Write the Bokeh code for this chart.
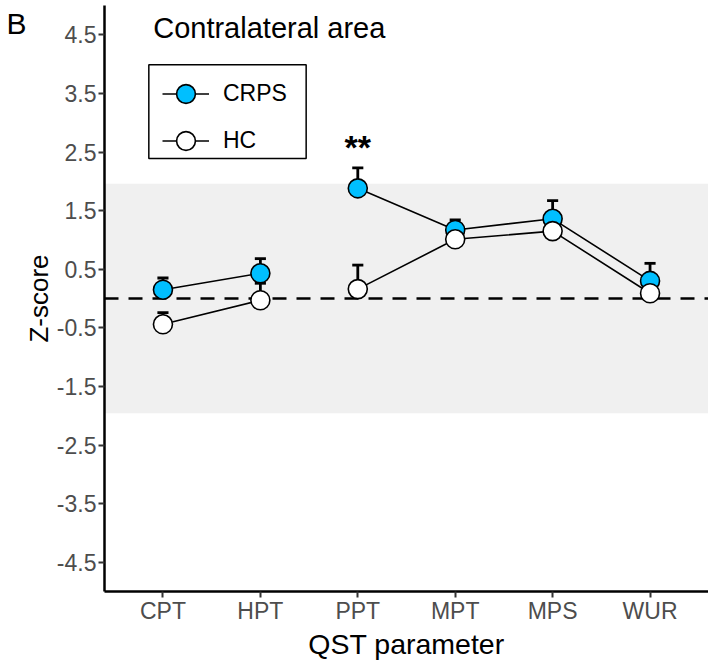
import numpy as np
from bokeh.plotting import figure
from bokeh.models import (FixedTicker, BoxAnnotation, Span, Label, Legend, LegendItem)
from bokeh.embed import file_html
from bokeh.resources import INLINE

# ---------------- data ----------------
categories = ["CPT", "HPT", "PPT", "MPT", "MPS", "WUR"]
segment_group = [1, 1, 2, 2, 2, 2]
crps_mean = [0.15, 0.43, 1.88, 1.17, 1.36, 0.30]
crps_se = [0.20, 0.25, 0.35, 0.17, 0.31, 0.30]
hc_mean = [-0.44, -0.03, 0.16, 1.01, 1.15, 0.09]
hc_se = [0.20, 0.29, 0.41, 0.15, 0.18, 0.20]
y_ticks = [-4.5, -3.5, -2.5, -1.5, -0.5, 0.5, 1.5, 2.5, 3.5, 4.5]
normal_band = (-1.96, 1.96)
sig_marks = {"PPT": "**"}

FONT = "Liberation Sans"
x_pos = np.arange(1, len(categories) + 1, dtype=float)

p = figure(width=708, height=663, x_range=(0.4, 6.6), y_range=(-5, 5),
           output_backend="svg", toolbar_location=None,
           min_border_left=104, min_border_right=0, min_border_top=5,
           min_border_bottom=72)
p.outline_line_color = None
p.xgrid.visible = False
p.ygrid.visible = False
p.background_fill_color = "white"

# grey normal range band
p.add_layout(BoxAnnotation(bottom=normal_band[0], top=normal_band[1], fill_color="#F0F0F0",
                           fill_alpha=1.0, line_color=None, level="underlay"))

# dashed zero line
p.add_layout(Span(location=0, dimension="width", line_color="black", line_width=2.5,
                  line_dash="14 10", level="underlay"))


def broken_line(xs, ys, groups):
    ox, oy = [], []
    for i, (x, y, g) in enumerate(zip(xs, ys, groups)):
        if i > 0 and g != groups[i - 1]:
            ox.append(np.nan)
            oy.append(np.nan)
        ox.append(x)
        oy.append(y)
    return ox, oy


series = [("CRPS", crps_mean, crps_se, "#00BFFF"), ("HC", hc_mean, hc_se, "white")]

line_r = {}
for name, m, se, col in series:
    lx, ly = broken_line(list(x_pos), m, segment_group)
    line_r[name] = p.line(lx, ly, line_color="black", line_width=1.6)

cap = 0.057
for name, m, se, col in series:
    m = np.array(m)
    se = np.array(se)
    p.segment(x0=x_pos, y0=m, x1=x_pos, y1=m + se, line_color="black", line_width=2.8)
    p.segment(x0=x_pos - cap, y0=m + se, x1=x_pos + cap, y1=m + se,
              line_color="black", line_width=2.8)

pt_r = {}
for name, m, se, col in series:
    pt_r[name] = p.scatter(x_pos, m, size=19, fill_color=col, line_color="black",
                           line_width=1.6)

# significance marks
for cat, txt in sig_marks.items():
    i = categories.index(cat)
    p.add_layout(Label(x=x_pos[i], y=2.58, text=txt, text_align="center",
                       text_baseline="middle", text_font=FONT, text_font_size="34px",
                       text_font_style="bold", text_color="black"))

# title inside panel
p.add_layout(Label(x=0.9, y=4.608, text="Contralateral area", text_align="left",
                   text_baseline="middle", text_font=FONT, text_font_size="29px",
                   text_color="black"))

# legend border box (layout positions)
p.add_layout(BoxAnnotation(left=0.855, right=2.47, top=3.991, bottom=2.388,
                           fill_color="white", fill_alpha=1.0, line_color="black",
                           line_alpha=1.0, line_width=1.5, level="overlay"))

legend = Legend(items=[LegendItem(label="CRPS", renderers=[line_r["CRPS"], pt_r["CRPS"]]),
                       LegendItem(label="HC", renderers=[line_r["HC"], pt_r["HC"]])],
                location=(58, 427), glyph_width=47, glyph_height=47, spacing=0,
                padding=0, margin=0, label_standoff=14, label_height=47,
                label_text_font=FONT, label_text_font_size="23px",
                label_text_color="black", border_line_color=None,
                background_fill_alpha=0.0)
p.add_layout(legend)

# axes
for ax in (p.xaxis[0], p.yaxis[0]):
    ax.axis_line_width = 2.5
    ax.axis_line_color = "black"
    ax.major_tick_line_color = "#333333"
    ax.major_tick_line_width = 2
    ax.major_tick_out = 6
    ax.major_tick_in = 0
    ax.minor_tick_line_color = None
    ax.major_label_text_font = FONT
    ax.major_label_text_font_size = "23px"
    ax.major_label_text_color = "#4D4D4D"
    ax.axis_label_text_font = FONT
    ax.axis_label_text_font_style = "normal"
    ax.axis_label_text_color = "black"

p.yaxis.ticker = FixedTicker(ticks=y_ticks)
p.yaxis.major_label_overrides = {t: f"{t:.1f}" for t in y_ticks}
p.yaxis.axis_label = "Z-score"
p.yaxis.axis_label_text_font_size = "26px"
p.yaxis.axis_label_standoff = 0
p.yaxis.major_label_standoff = 2

p.xaxis.ticker = FixedTicker(ticks=list(x_pos))
p.xaxis.major_label_overrides = {float(x): c for x, c in zip(x_pos, categories)}
p.xaxis.major_label_overrides.update({int(x): c for x, c in zip(x_pos, categories)})
p.xaxis.axis_label = "QST parameter"
p.xaxis.axis_label_text_font_size = "28.5px"
p.xaxis.axis_label_standoff = 1
p.xaxis.major_label_standoff = 0

# panel letter, placed in the left side panel so that it is not clipped to the frame
p.add_layout(Label(x=6, y=23, x_units="canvas", y_units="canvas", text="B",
                   text_align="left", text_baseline="middle", text_font=FONT,
                   text_font_size="30px", text_color="black"), "left")

open("out.html", "w").write(file_html(p, INLINE))
